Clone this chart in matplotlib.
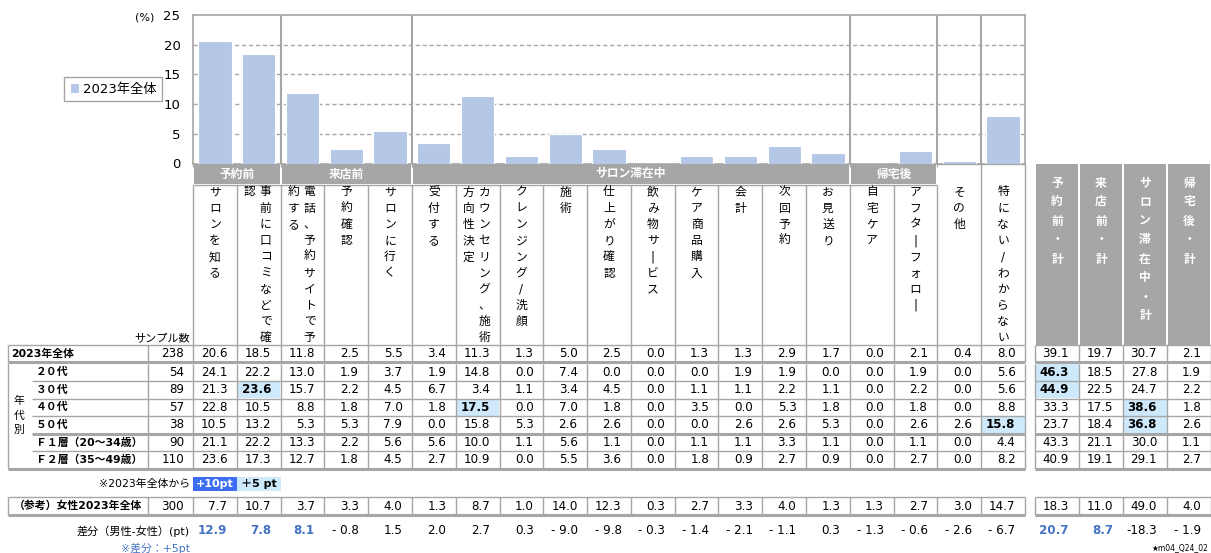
import matplotlib.pyplot as plt
import numpy as np
from matplotlib.patches import Rectangle

plt.rcParams['font.family'] = ['DejaVu Sans', 'Noto Sans CJK JP']

# ---- data ----
categories = ['サロンを知る', '事前に口コミなどで確認', '電話、予約サイトで予約する', '予約確認',
              'サロンに行く', '受付する', 'カウンセリング、施術方向性決定', 'クレンジング/洗顔',
              '施術', '仕上がり確認', '飲み物サービス', 'ケア商品購入', '会計', '次回予約',
              'お見送り', '自宅ケア', 'アフターフォロー', 'その他', '特にない/わからない']
groups = ['予約前', '来店前', 'サロン滞在中', '帰宅後']
group_sizes = [2, 3, 10, 2]
summary_labels = ['予約前・計', '来店前・計', 'サロン滞在中・計', '帰宅後・計']

total_label = '2023年全体'
total_n = 238
total = [20.6, 18.5, 11.8, 2.5, 5.5, 3.4, 11.3, 1.3, 5.0, 2.5, 0.0, 1.3, 1.3, 2.9, 1.7, 0.0, 2.1, 0.4, 8.0]
total_sum = [39.1, 19.7, 30.7, 2.1]

age_labels = ['２０代', '３０代', '４０代', '５０代', 'Ｆ１層（20～34歳）', 'Ｆ２層（35～49歳）']
age_n = [54, 89, 57, 38, 90, 110]
age_vals = [
    [24.1, 22.2, 13.0, 1.9, 3.7, 1.9, 14.8, 0.0, 7.4, 0.0, 0.0, 0.0, 1.9, 1.9, 0.0, 0.0, 1.9, 0.0, 5.6],
    [21.3, 23.6, 15.7, 2.2, 4.5, 6.7, 3.4, 1.1, 3.4, 4.5, 0.0, 1.1, 1.1, 2.2, 1.1, 0.0, 2.2, 0.0, 5.6],
    [22.8, 10.5, 8.8, 1.8, 7.0, 1.8, 17.5, 0.0, 7.0, 1.8, 0.0, 3.5, 0.0, 5.3, 1.8, 0.0, 1.8, 0.0, 8.8],
    [10.5, 13.2, 5.3, 5.3, 7.9, 0.0, 15.8, 5.3, 2.6, 2.6, 0.0, 0.0, 2.6, 2.6, 5.3, 0.0, 2.6, 2.6, 15.8],
    [21.1, 22.2, 13.3, 2.2, 5.6, 5.6, 10.0, 1.1, 5.6, 1.1, 0.0, 1.1, 1.1, 3.3, 1.1, 0.0, 1.1, 0.0, 4.4],
    [23.6, 17.3, 12.7, 1.8, 4.5, 2.7, 10.9, 0.0, 5.5, 3.6, 0.0, 1.8, 0.9, 2.7, 0.9, 0.0, 2.7, 0.0, 8.2],
]
age_sum = [
    [46.3, 18.5, 27.8, 1.9],
    [44.9, 22.5, 24.7, 2.2],
    [33.3, 17.5, 38.6, 1.8],
    [23.7, 18.4, 36.8, 2.6],
    [43.3, 21.1, 30.0, 1.1],
    [40.9, 19.1, 29.1, 2.7],
]

female_label = '（参考）女性2023年全体'
female_n = 300
female = [7.7, 10.7, 3.7, 3.3, 4.0, 1.3, 8.7, 1.0, 14.0, 12.3, 0.3, 2.7, 3.3, 4.0, 1.3, 1.3, 2.7, 3.0, 14.7]
female_sum = [18.3, 11.0, 49.0, 4.0]

diff = [12.9, 7.8, 8.1, -0.8, 1.5, 2.0, 2.7, 0.3, -9.0, -9.8, -0.3, -1.4, -2.1, -1.1, 0.3, -1.3, -0.6, -2.6, -6.7]
diff_sum = [20.7, 8.7, -18.3, -1.9]

# ---- style ----
BAR = '#b4c7e7'
GRAY = '#a6a6a6'
LINE = '#a6a6a6'
LIGHT = '#cde9fb'
DARK = '#3d6df2'
BLUE = '#4472c4'
FS = 8.6     # numbers
VFS = 8.5    # vertical header text
LFS = 7.8    # row labels

W, H = 1211, 553
fig = plt.figure(figsize=(W / 100, H / 100), dpi=100)

x_left, x_right = 193, 1025
edges = np.linspace(x_left, x_right, len(categories) + 1)
centers = (edges[:-1] + edges[1:]) / 2
sum_edges = [1035, 1079, 1123, 1167, 1211]
y_top, y_zero = 15, 163.5

# bar chart
ax = fig.add_axes([x_left / W, 1 - y_zero / H, (x_right - x_left) / W, (y_zero - y_top) / H])
x = np.arange(len(categories))
ax.bar(x, total, width=0.76, color=BAR, edgecolor='white', linewidth=0.8, label=total_label, zorder=3)
ax.set_xlim(-0.5, len(categories) - 0.5)
ax.set_ylim(0, 25)
ax.set_yticks(range(0, 26, 5))
ax.set_xticks(np.arange(len(categories) + 1) - 0.5)
ax.set_xticklabels([])
ax.tick_params(axis='y', length=0, pad=9, labelsize=9.5)
ax.tick_params(axis='x', length=2, color=LINE)
for s in ax.spines.values():
    s.set_color(LINE)
    s.set_linewidth(1.2)
for yv in [5, 10, 15, 20]:
    ax.axhline(yv, color=LINE, lw=1, ls=(0, (3, 2)), zorder=1)
bounds = np.cumsum(group_sizes)
for b in list(bounds) + [bounds[-1] + 1]:
    ax.axvline(b - 0.5, color=LINE, lw=1.5, zorder=2)
ax.legend(loc='center', bbox_to_anchor=(113 / W, 1 - 89 / H), bbox_transform=fig.transFigure,
          fancybox=False, edgecolor=LINE, framealpha=1, fontsize=9.5, handlelength=0.7,
          handleheight=0.7, handletextpad=0.3, borderpad=0.45)

# overlay for the table (pixel coordinates)
tab = fig.add_axes([0, 0, 1, 1])
tab.set_xlim(0, W)
tab.set_ylim(H, 0)
tab.axis('off')
tab.patch.set_alpha(0)

tab.text(145, 18, '(%)', ha='center', va='center', fontsize=8)

def hline(y, x0, x1, lw=1):
    tab.plot([x0, x1], [y, y], color=LINE, lw=lw, solid_capstyle='butt')

def vline(xv, y0, y1, lw=1):
    tab.plot([xv, xv], [y0, y1], color=LINE, lw=lw, solid_capstyle='butt')

def vtext(xc, y0, s, step, **kw):
    for k, ch in enumerate(s):
        ch = '|' if ch == 'ー' else ch
        tab.text(xc, y0 + k * step, ch, ha='center', va='center', **kw)

def fmt(v):
    return '-' + f'{abs(v):4.1f}' if v < 0 else f'{v:.1f}'

# group band
band_top, band_bot = 164, 184
start = 0
for g, n in zip(groups, group_sizes):
    x0, x1 = edges[start], edges[start + n]
    tab.add_patch(Rectangle((x0 + 1, band_top), x1 - x0 - 2, band_bot - band_top, fc=GRAY, ec='none'))
    tab.text((x0 + x1) / 2, (band_top + band_bot) / 2, g, ha='center', va='center',
             color='white', fontsize=VFS, fontweight='bold')
    start += n
hline(185, edges[0], edges[bounds[-1]])
hline(band_top, edges[bounds[-1]], edges[-1])

# header column labels
head_bot = 345
for i, c in enumerate(categories):
    vline(edges[i], band_top if i > bounds[-1] else 185, head_bot)
    parts = [c[k:k + 10] for k in range(0, len(c), 10)]
    if len(parts) == 1:
        vtext(centers[i], 192, parts[0], 16.2, fontsize=VFS)
    else:
        vtext(centers[i] + 7, 192, parts[0], 16.2, fontsize=VFS)
        vtext(centers[i] - 9, 192, parts[1], 16.2, fontsize=VFS)
vline(edges[-1], band_top, head_bot)
tab.text(190, 338, 'サンプル数', ha='right', va='center', fontsize=8)

# summary header
for j, s in enumerate(summary_labels):
    x0, x1 = sum_edges[j], sum_edges[j + 1]
    tab.add_patch(Rectangle((x0 + 1, band_top), x1 - x0 - 2, head_bot - band_top, fc=GRAY, ec='none'))
    vtext((x0 + x1) / 2, 183, s, 19, fontsize=VFS, color='white', fontweight='bold')

def draw_row(y0, y1, vals, svals, n, base=None):
    yc = (y0 + y1) / 2
    tab.text(184, yc, str(n), ha='right', va='center', fontsize=FS)
    for i, v in enumerate(vals):
        bold = False
        if base is not None and v - base[0][i] >= 5:
            tab.add_patch(Rectangle((edges[i] + 0.5, y0 + 0.5), edges[i + 1] - edges[i] - 1, y1 - y0 - 1,
                                    fc=DARK if v - base[0][i] >= 10 else LIGHT, ec='none'))
            bold = True
        tab.text(edges[i + 1] - 9.5, yc, fmt(v), ha='right', va='center', fontsize=FS,
                 fontweight='bold' if bold else 'normal')
    for j, v in enumerate(svals):
        bold = False
        if base is not None and v - base[1][j] >= 5:
            tab.add_patch(Rectangle((sum_edges[j] + 0.5, y0 + 0.5), sum_edges[j + 1] - sum_edges[j] - 1,
                                    y1 - y0 - 1, fc=DARK if v - base[1][j] >= 10 else LIGHT, ec='none'))
            bold = True
        tab.text(sum_edges[j + 1] - 10, yc, fmt(v), ha='right', va='center', fontsize=FS,
                 fontweight='bold' if bold else 'normal')
    for xe in [148] + list(edges):
        vline(xe, y0, y1)
    for xe in sum_edges:
        vline(xe, y0, y1)

# total row
r0, r1 = 345, 362
hline(r0, 8, edges[-1])
hline(r0, sum_edges[0], sum_edges[-1])
vline(8, r0, r1)
tab.text(11, (r0 + r1) / 2, total_label, ha='left', va='center', fontsize=LFS, fontweight='bold')
draw_row(r0, r1, total, total_sum, total_n)

# age rows
age_edges = [363.5, 381, 398.5, 416, 433.5, 451, 468.5]
hline(362.2, 8, edges[-1], lw=2.2)
hline(362.2, sum_edges[0], sum_edges[-1], lw=2.2)
vline(8, 363, age_edges[-1])
for k, lab in enumerate(age_labels):
    y0, y1 = age_edges[k], age_edges[k + 1]
    tab.text(36, (y0 + y1) / 2, lab, ha='left', va='center', fontsize=LFS, fontweight='bold')
    draw_row(y0, y1, age_vals[k], age_sum[k], age_n[k], base=(total, total_sum))
    if k < len(age_labels) - 1:
        lw = 2.2 if k == 3 else 1
        hline(y1, 32, edges[-1], lw=lw)
        hline(y1, sum_edges[0], sum_edges[-1], lw=lw)
hline(age_edges[-1], 8, edges[-1], lw=2.2)
hline(age_edges[-1], sum_edges[0], sum_edges[-1], lw=2.2)
vtext(19, 401, '年代別', 14.5, fontsize=LFS)

# highlight key
tab.text(190, 484, '※2023年全体から', ha='right', va='center', fontsize=7.8)
tab.add_patch(Rectangle((edges[0], 477), edges[1] - edges[0], 14, fc=DARK, ec='none'))
tab.add_patch(Rectangle((edges[1], 477), edges[2] - edges[1], 14, fc=LIGHT, ec='none'))
tab.text(centers[0], 484, '+10pt', ha='center', va='center', fontsize=8, color='white', fontweight='bold')
tab.text(centers[1], 484, '＋5 pt', ha='center', va='center', fontsize=8, fontweight='bold')

# female reference row
f0, f1 = 497, 515
hline(f0, 8, edges[-1])
hline(f0, sum_edges[0], sum_edges[-1])
vline(8, f0, f1)
tab.text(78, (f0 + f1) / 2, female_label, ha='center', va='center', fontsize=LFS, fontweight='bold')
draw_row(f0, f1, female, female_sum, female_n)
hline(f1, 8, edges[-1], lw=2.2)
hline(f1, sum_edges[0], sum_edges[-1], lw=2.2)

# difference row
dy = 531
tab.text(190, dy, '差分（男性-女性）(pt)', ha='right', va='center', fontsize=8)
for i, v in enumerate(diff):
    hi = v >= 5
    tab.text(edges[i + 1] - 9.5, dy, fmt(v), ha='right', va='center', fontsize=FS,
             color=BLUE if hi else 'black', fontweight='bold' if hi else 'normal')
for j, v in enumerate(diff_sum):
    hi = v >= 5
    tab.text(sum_edges[j + 1] - 10, dy, fmt(v), ha='right', va='center', fontsize=FS,
             color=BLUE if hi else 'black', fontweight='bold' if hi else 'normal')
tab.text(190, 548, '※差分：+5pt', ha='right', va='center', fontsize=7.8, color=BLUE)
tab.text(1208, 548, '★m04_Q24_02', ha='right', va='center', fontsize=5.5)

fig.savefig('out.png', dpi=100)
